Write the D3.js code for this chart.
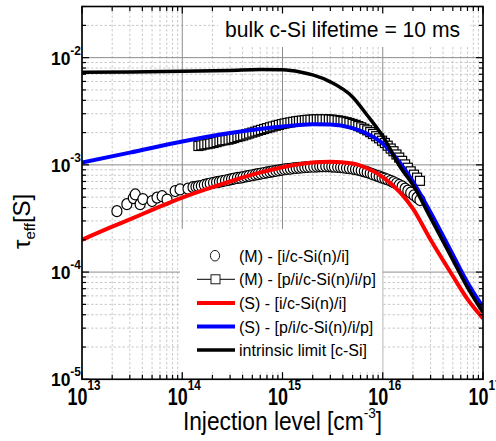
<!DOCTYPE html>
<html>
<head>
<meta charset="utf-8">
<script src="https://cdn.jsdelivr.net/npm/d3@7"></script>
<style>
  body { margin: 0; background: #fff; }
  svg { display: block; }
</style>
</head>
<body>
<div id="chart"></div>
<script>
// axis decades
const xExps = [13, 14, 15, 16, 17];
const yExps = [-5, -4, -3, -2];

// (M) - [i/c-Si(n)/i]  measured, [injection cm^-3, tau s]
const measI = [
  [2.23e13, 3.7e-4], [2.8e13, 4.3e-4], [3.25e13, 4.9e-4], [3.4e13, 5.3e-4], [3.8e13, 4.3e-4],
  [4.05e13, 4.8e-4], [5.0e13, 4.6e-4], [5.6e13, 4.95e-4], [6.3e13, 5.1e-4], [7.05e13, 4.75e-4],
  [8.5e13, 5.7e-4], [9.5e13, 5.9e-4], [1.14e14, 6.0e-4], [1.28e14, 6.2e-4], [1.37e14, 6.25e-4],
  [1.45e14, 6.3e-4], [1.55e14, 6.35e-4], [1.66e14, 6.5e-4], [1.78e14, 6.6e-4], [1.9e14, 6.7e-4],
  [2.05e14, 6.8e-4], [2.2e14, 6.9e-4], [2.35e14, 6.95e-4], [2.5e14, 7.05e-4], [2.7e14, 7.15e-4],
  [2.9e14, 7.25e-4], [3.1e14, 7.35e-4], [3.3e14, 7.45e-4], [3.55e14, 7.55e-4], [3.8e14, 7.6e-4],
  [4.05e14, 7.7e-4], [4.35e14, 7.8e-4], [4.65e14, 7.9e-4], [5.0e14, 8.0e-4], [5.35e14, 8.1e-4],
  [5.7e14, 8.2e-4], [6.1e14, 8.3e-4], [6.55e14, 8.4e-4], [7.0e14, 8.5e-4], [7.5e14, 8.6e-4],
  [8.0e14, 8.7e-4], [8.6e14, 8.8e-4], [9.2e14, 8.9e-4], [9.85e14, 9.0e-4], [1.05e15, 9.1e-4],
  [1.12e15, 9.15e-4], [1.2e15, 9.2e-4], [1.28e15, 9.3e-4], [1.37e15, 9.35e-4], [1.46e15, 9.4e-4],
  [1.56e15, 9.45e-4], [1.67e15, 9.5e-4], [1.78e15, 9.55e-4], [1.9e15, 9.6e-4], [2.05e15, 9.6e-4],
  [2.2e15, 9.65e-4], [2.35e15, 9.7e-4], [2.5e15, 9.7e-4], [2.7e15, 9.7e-4], [2.9e15, 9.7e-4],
  [3.1e15, 9.65e-4], [3.3e15, 9.6e-4], [3.55e15, 9.55e-4], [3.8e15, 9.5e-4], [4.05e15, 9.45e-4],
  [4.35e15, 9.35e-4], [4.65e15, 9.3e-4], [5.0e15, 9.2e-4], [5.35e15, 9.1e-4], [5.7e15, 9.0e-4],
  [6.1e15, 8.85e-4], [6.55e15, 8.7e-4], [7.0e15, 8.55e-4], [7.5e15, 8.35e-4], [8.0e15, 8.15e-4],
  [8.6e15, 7.95e-4], [9.2e15, 7.8e-4], [9.85e15, 7.6e-4], [1.05e16, 7.45e-4], [1.12e16, 7.3e-4],
  [1.2e16, 7.1e-4], [1.28e16, 6.9e-4], [1.37e16, 6.7e-4], [1.46e16, 6.5e-4], [1.56e16, 6.3e-4],
  [1.67e16, 6.0e-4], [1.78e16, 5.75e-4], [1.9e16, 5.5e-4], [2.05e16, 5.2e-4], [2.2e16, 4.95e-4],
  [2.35e16, 4.7e-4]
];

// (M) - [p/i/c-Si(n)/i/p]  measured
const measP = [
  [1.45e14, 1.5e-3], [1.55e14, 1.52e-3], [1.66e14, 1.55e-3], [1.78e14, 1.56e-3], [1.9e14, 1.58e-3],
  [2.05e14, 1.6e-3], [2.2e14, 1.63e-3], [2.35e14, 1.66e-3], [2.5e14, 1.69e-3], [2.7e14, 1.7e-3],
  [2.9e14, 1.72e-3], [3.1e14, 1.75e-3], [3.3e14, 1.78e-3], [3.55e14, 1.82e-3], [3.8e14, 1.85e-3],
  [4.05e14, 1.88e-3], [4.35e14, 1.92e-3], [4.65e14, 1.96e-3], [5.0e14, 2.0e-3], [5.35e14, 2.04e-3],
  [5.7e14, 2.08e-3], [6.1e14, 2.12e-3], [6.55e14, 2.16e-3], [7.0e14, 2.2e-3], [7.5e14, 2.24e-3],
  [8.0e14, 2.28e-3], [8.6e14, 2.32e-3], [9.2e14, 2.36e-3], [9.85e14, 2.4e-3], [1.05e15, 2.43e-3],
  [1.12e15, 2.46e-3], [1.2e15, 2.49e-3], [1.28e15, 2.52e-3], [1.37e15, 2.55e-3], [1.46e15, 2.57e-3],
  [1.56e15, 2.59e-3], [1.67e15, 2.61e-3], [1.78e15, 2.63e-3], [1.9e15, 2.64e-3], [2.05e15, 2.65e-3],
  [2.2e15, 2.66e-3], [2.35e15, 2.66e-3], [2.5e15, 2.66e-3], [2.7e15, 2.66e-3], [2.9e15, 2.65e-3],
  [3.1e15, 2.64e-3], [3.3e15, 2.62e-3], [3.55e15, 2.6e-3], [3.8e15, 2.57e-3], [4.05e15, 2.54e-3],
  [4.35e15, 2.5e-3], [4.65e15, 2.46e-3], [5.0e15, 2.41e-3], [5.35e15, 2.36e-3], [5.7e15, 2.3e-3],
  [6.1e15, 2.24e-3], [6.55e15, 2.17e-3], [7.0e15, 2.1e-3], [7.5e15, 2.02e-3], [8.0e15, 1.94e-3],
  [8.6e15, 1.85e-3], [9.2e15, 1.77e-3], [9.85e15, 1.68e-3], [1.05e16, 1.6e-3], [1.12e16, 1.51e-3],
  [1.2e16, 1.42e-3], [1.28e16, 1.34e-3], [1.37e16, 1.25e-3], [1.46e16, 1.17e-3], [1.56e16, 1.09e-3],
  [1.67e16, 1.01e-3], [1.78e16, 9.4e-4], [1.9e16, 8.7e-4], [2.05e16, 8.1e-4], [2.2e16, 7.6e-4],
  [2.35e16, 7.1e-4]
];

// (S) - [i/c-Si(n)/i]  simulated
const simI = [
  [1e13, 2.0e-4], [2e13, 2.65e-4], [3e13, 3.1e-4], [5e13, 3.8e-4], [1e14, 4.95e-4],
  [2e14, 6.2e-4], [3e14, 7.0e-4], [5e14, 8.1e-4], [1e15, 9.5e-4], [2e15, 1.05e-3],
  [3e15, 1.07e-3], [5e15, 1.03e-3], [7e15, 9.3e-4], [1e16, 7.7e-4], [1.5e16, 5.5e-4],
  [2e16, 3.9e-4], [3e16, 2.0e-4], [5e16, 9.2e-5], [7e16, 5.6e-5], [1e17, 3.7e-5]
];

// (S) - [p/i/c-Si(n)/i/p]  simulated
const simP = [
  [1e13, 1.05e-3], [3e13, 1.3e-3], [1e14, 1.65e-3], [3e14, 1.98e-3], [1e15, 2.28e-3],
  [2e15, 2.39e-3], [3e15, 2.38e-3], [5e15, 2.2e-3], [7e15, 1.95e-3], [1e16, 1.58e-3],
  [1.5e16, 1.03e-3], [2e16, 7.0e-4], [3e16, 3.6e-4], [5e16, 1.45e-4], [7e16, 8.0e-5],
  [1e17, 4.7e-5]
];

// intrinsic limit [c-Si]
const intrinsic = [
  [1e13, 7.3e-3], [3e13, 7.35e-3], [1e14, 7.45e-3], [3e14, 7.6e-3], [6e14, 7.75e-3],
  [1e15, 7.7e-3], [1.5e15, 7.35e-3], [2e15, 6.9e-3], [3e15, 5.95e-3], [5e15, 4.3e-3],
  [7e15, 2.9e-3], [1e16, 1.85e-3], [1.5e16, 9.5e-4], [2e16, 6.5e-4], [3e16, 3.2e-4],
  [5e16, 1.3e-4], [7e16, 7.2e-5], [1e17, 4.2e-5]
];

const legendLabels = [
  "(M) - [i/c-Si(n)/i]",
  "(M) - [p/i/c-Si(n)/i/p]",
  "(S) - [i/c-Si(n)/i]",
  "(S) - [p/i/c-Si(n)/i/p]",
  "intrinsic limit [c-Si]"
];

const W = 496, H = 441;
const pL = 82, pR = 483, pT = 6.5, pB = 379.3;

const x = d3.scaleLog().domain([1e13, 1e17]).range([pL, pR]);
const y = d3.scaleLog().domain([1e-5, 3e-2]).range([pB, pT]);

const svg = d3.select("#chart").append("svg")
  .attr("width", W)
  .attr("height", H)
  .style("font-family", "'Liberation Sans', Arial, sans-serif");

const isMajor = v => Math.abs(Math.log10(v) - Math.round(Math.log10(v))) < 1e-9;
const xt = x.ticks();
const yt = y.ticks();

/**
 * Grid
 */
const grid = svg.append("g");
grid.selectAll(".gxm").data(xt.filter(v => !isMajor(v))).enter().append("line")
  .attr("x1", d => x(d)).attr("x2", d => x(d)).attr("y1", pT).attr("y2", pB)
  .attr("stroke", "#bdbdbd").attr("stroke-width", 0.8).attr("stroke-dasharray", "2.5,2");
grid.selectAll(".gym").data(yt.filter(v => !isMajor(v))).enter().append("line")
  .attr("y1", d => y(d)).attr("y2", d => y(d)).attr("x1", pL).attr("x2", pR)
  .attr("stroke", "#bdbdbd").attr("stroke-width", 0.8).attr("stroke-dasharray", "2.5,2");
grid.selectAll(".gxM").data(xt.filter(isMajor)).enter().append("line")
  .attr("x1", d => x(d)).attr("x2", d => x(d)).attr("y1", pT).attr("y2", pB)
  .attr("stroke", "#8c8c8c").attr("stroke-width", 1);
grid.selectAll(".gyM").data(yt.filter(isMajor)).enter().append("line")
  .attr("y1", d => y(d)).attr("y2", d => y(d)).attr("x1", pL).attr("x2", pR)
  .attr("stroke", "#8c8c8c").attr("stroke-width", 1);

/**
 * Measured markers
 */
const marks = svg.append("g");
marks.selectAll("rect").data(measP).enter().append("rect")
  .attr("x", d => x(d[0]) - 4.5).attr("y", d => y(d[1]) - 4.5)
  .attr("width", 9).attr("height", 9)
  .attr("fill", "#fff").attr("stroke", "#000").attr("stroke-width", 1.2);
marks.selectAll("ellipse").data(measI).enter().append("ellipse")
  .attr("cx", d => x(d[0])).attr("cy", d => y(d[1]))
  .attr("rx", 5).attr("ry", 5.5)
  .attr("fill", "#fff").attr("stroke", "#000").attr("stroke-width", 1.2);

/**
 * Simulated curves
 */
const line = d3.line().x(d => x(d[0])).y(d => y(d[1])).curve(d3.curveMonotoneX);
const curves = [
  { data: simI, color: "#ff0000", width: 4 },
  { data: simP, color: "#0000ff", width: 4 },
  { data: intrinsic, color: "#000000", width: 3.5 }
];
svg.append("defs").append("clipPath").attr("id", "plot")
  .append("rect").attr("x", pL).attr("y", pT).attr("width", pR - pL).attr("height", pB - pT);
svg.append("g").attr("clip-path", "url(#plot)")
  .selectAll("path").data(curves).enter().append("path")
  .attr("d", d => line(d.data))
  .attr("fill", "none")
  .attr("stroke", d => d.color)
  .attr("stroke-width", d => d.width);

/**
 * Title box
 */
svg.append("rect").attr("x", 218).attr("y", pT).attr("width", 252).attr("height", 40.5).attr("fill", "#fff");
svg.append("text").attr("x", 225).attr("y", 36.5)
  .attr("font-size", 22).attr("textLength", 235).attr("lengthAdjust", "spacingAndGlyphs")
  .text("bulk c-Si lifetime = 10 ms");

/**
 * Legend
 */
const lg = svg.append("g");
lg.append("rect").attr("x", 180).attr("y", 229).attr("width", 202.5).attr("height", 143).attr("fill", "#fff");
const rowY = i => 255.7 + i * 23.6;
lg.append("ellipse").attr("cx", 215).attr("cy", rowY(0)).attr("rx", 4.6).attr("ry", 5.3)
  .attr("fill", "#fff").attr("stroke", "#000").attr("stroke-width", 0.9);
lg.append("line").attr("x1", 197).attr("x2", 235).attr("y1", rowY(1)).attr("y2", rowY(1))
  .attr("stroke", "#000").attr("stroke-width", 1);
lg.append("rect").attr("x", 211).attr("y", rowY(1) - 4.5).attr("width", 9).attr("height", 9)
  .attr("fill", "#fff").attr("stroke", "#000").attr("stroke-width", 0.9);
curves.forEach((c, i) => {
  lg.append("line").attr("x1", 197).attr("x2", 235).attr("y1", rowY(i + 2)).attr("y2", rowY(i + 2))
    .attr("stroke", c.color).attr("stroke-width", c.width);
});
lg.selectAll("text").data(legendLabels).enter().append("text")
  .attr("x", 239).attr("y", (d, i) => rowY(i) + 6)
  .attr("font-size", 16)
  .text(d => d);

/**
 * Axes frame and ticks (inward, all four sides)
 */
const ax = svg.append("g").attr("stroke", "#000");
xt.forEach(v => {
  const len = isMajor(v) ? 7 : 4.5;
  ax.append("line").attr("x1", x(v)).attr("x2", x(v)).attr("y1", pB).attr("y2", pB - len).attr("stroke-width", 1.2);
  ax.append("line").attr("x1", x(v)).attr("x2", x(v)).attr("y1", pT).attr("y2", pT + len).attr("stroke-width", 1.2);
});
yt.forEach(v => {
  const len = isMajor(v) ? 7 : 4;
  ax.append("line").attr("y1", y(v)).attr("y2", y(v)).attr("x1", pL).attr("x2", pL + len).attr("stroke-width", 1.2);
  ax.append("line").attr("y1", y(v)).attr("y2", y(v)).attr("x1", pR).attr("x2", pR - len).attr("stroke-width", 1.2);
});
ax.append("rect").attr("x", pL).attr("y", pT).attr("width", pR - pL).attr("height", pB - pT)
  .attr("fill", "none").attr("stroke-width", 1.6);

/**
 * Tick labels
 */
xExps.forEach(e => {
  const t = svg.append("text")
    .attr("transform", `translate(${x(Math.pow(10, e)) + 2},405) scale(0.78,1)`)
    .attr("text-anchor", "middle").attr("font-weight", "bold")
    .attr("font-size", 23);
  t.append("tspan").text("10");
  t.append("tspan").attr("font-size", 15).attr("dy", -15).text(e);
});
yExps.forEach(e => {
  const t = svg.append("text")
    .attr("transform", `translate(81,${y(Math.pow(10, e)) + 7}) scale(0.92,1)`)
    .attr("text-anchor", "end").attr("font-weight", "bold")
    .attr("font-size", 19);
  t.append("tspan").text("10");
  t.append("tspan").attr("font-size", 13).attr("dy", -10).text(e);
});

/**
 * Axis titles
 */
const xl = svg.append("text")
  .attr("transform", "translate(282.5,430) scale(0.91,1)")
  .attr("text-anchor", "middle").attr("font-size", 25);
xl.append("tspan").text("Injection level [cm");
xl.append("tspan").attr("font-size", 15).attr("dy", -12).text("-3");
xl.append("tspan").attr("dy", 12).text("]");

const yl = svg.append("text").attr("transform", "translate(30,249) rotate(-90)")
  .attr("font-size", 24);
yl.append("tspan").text("\u03c4");
yl.append("tspan").attr("font-size", 15).attr("dy", 5).text("eff");
yl.append("tspan").attr("dy", -5).text("[S]");
</script>
</body>
</html>
